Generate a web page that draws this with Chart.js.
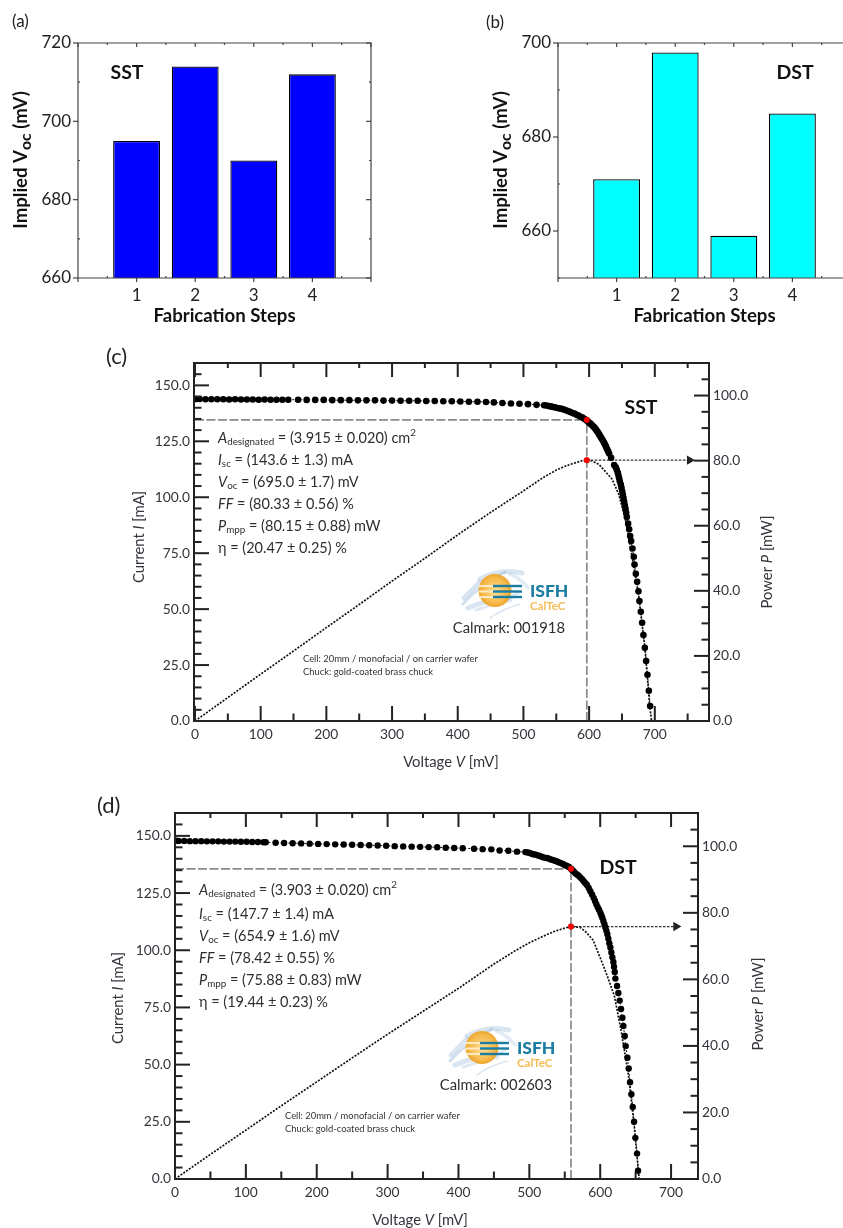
<!DOCTYPE html>
<html><head><meta charset="utf-8">
<style>
html,body{margin:0;padding:0;width:843px;height:1228px;overflow:hidden;background:#fff}
.p{position:absolute}
</style>
<script src="https://cdn.jsdelivr.net/npm/chart.js@4"></script>
</head><body>
<div class="p" style="left:0;top:0;width:420px;height:327px"><canvas id="a"></canvas></div>
<div class="p" style="left:420px;top:0;width:431px;height:327px"><canvas id="b"></canvas></div>
<div class="p" style="left:0;top:340px;width:843px;height:445px"><canvas id="c"></canvas></div>
<div class="p" style="left:0;top:785px;width:843px;height:443px"><canvas id="d"></canvas></div>
<script>
// ---------- data ----------
const steps = [1, 2, 3, 4];
const impliedVocSST = [695, 714, 690, 712];
const impliedVocDST = [671, 698, 659, 685];

const voltageC = [
 2,7,16,25,34,43,52,61,70,79,88,97,106,115,124,133,142,
 157,170,183,196,209,222,235,248,261,274,287,300,313,326,339,352,365,378,391,404,417,430,443,455,468,481,494,507,520,
 531.6,535.1,538.2,541.2,544.2,547.3,550.3,553.4,556.4,559.5,562.5,565.5,568.6,571.6,574.7,577.7,580.8,583.8,586.9,590,593,
 596,598,600.1,602.1,604.1,606.1,607.7,609.2,610.7,612.2,613.7,615.3,616.8,618.3,619.8,621.4,622.9,624.4,625.9,627.4,629,630.5,633.5,
 638.1,640.6,642.2,643.7,644.7,645.7,646.7,648.2,649.3,650.3,651.3,652.3,653.3,654.3,655.4,656.4,657.4,
 659.4,661,662.5,664,666,668,669.1,671.1,673.1,675.1,676.6,678.7,680.7,682.7,684.8,686.8,688.8,690.9,692.9];
const currentC = [
 143.9,143.9,143.8,143.8,143.8,143.8,143.7,143.8,143.7,143.7,143.7,143.6,143.7,143.6,143.6,143.6,143.6,
 143.6,143.5,143.5,143.5,143.4,143.4,143.4,143.3,143.3,143.3,143.2,143.2,143.1,143.1,143.1,143,143,142.9,142.9,142.8,142.7,142.7,142.6,142.4,142.1,141.9,141.8,141.6,141.3,
 141.1,141,140.8,140.6,140.4,140.2,140,139.8,139.6,139.4,139.1,138.8,138.4,138.1,137.6,137.4,136.9,136.5,136,135.6,135,
 134.4,133.9,133.3,132.9,132.3,131.7,131.3,130.7,130.1,129.5,128.9,128.1,127.4,126.6,125.9,125.1,124.3,123.4,122.5,121.4,120.5,119.5,117.6,
 114.4,113.4,112.2,110.9,109.7,108.5,107.1,105.7,104.2,102.7,101.2,99.7,98.1,96.4,94.8,93,91.2,
 88.2,85.7,82.7,80.4,77.1,73.4,69.9,65.8,62.2,58,53.6,48.8,43.9,38.4,32.7,26.8,20.7,13.5,6.7];
const powerVoltageC = [0,50,100,150,200,250,300,350,400,450,500,530,550,565,580,590,596.5,605,615,625,635,645,655,665,675,685,692,695];
const powerC = [0,7.2,14.4,21.5,28.7,35.8,43,50,57.2,64.1,70.7,74.8,77.1,78.4,79.4,80,80.15,79.9,78.8,76.6,74.3,69.7,62.2,51,39,22.6,5.2,0];
const mppVoltageC = 596.5, mppCurrentC = 134.6, mppPowerC = 80.15, arrowEndC = 753;

const voltageD = [
 2,5,13,21,29,37,45,53,61,69,77,85,93,101,109,117,125,128,
 142,154,166,178,190,202,214,226,238,250,262,274,286,298,310,322,334,346,358,370,382,394,406,422,434.1,446.4,458.1,470.4,482.6,494.4,
 496.7,499.5,502.4,505.2,508,510.8,513.6,516.5,519.3,522.1,524.9,527.8,530.6,533.4,536.2,539.1,541.9,544.7,547.5,550.4,553.2,556,
 558.8,560.7,562.6,564.9,567.3,569.6,572,574.4,576.7,579.1,581.4,583.8,586.1,588.5,590.8,592.7,594.6,596.5,598.4,600.2,601.6,603,604.5,605.9,607.3,608.7,610.1,
 611.5,612.9,614.4,615.8,617.2,618.6,619.5,620.5,621.4,623.8,625.6,627.5,629.4,631.3,632.7,634.6,636,638.4,640.2,642.1,644,645.9,647.8,649.6,652,653.4];
const currentD = [
 147.9,147.8,147.8,147.7,147.7,147.7,147.6,147.6,147.6,147.5,147.5,147.5,147.4,147.4,147.3,147.3,147.2,147.2,
 147,146.9,146.8,146.7,146.6,146.5,146.4,146.3,146.2,146.1,146,145.9,145.8,145.7,145.5,145.4,145.3,145.2,145.1,145,144.8,144.7,144.6,144.4,144.2,144.1,143.6,143.5,143.1,142.9,
 142.8,142.6,142.3,142,141.9,141.6,141.3,141,140.7,140.4,140.3,140,139.7,139.4,139.1,138.8,138.4,138.1,137.7,137.2,136.8,136.4,
 135.6,135,134.5,133.7,133.1,132.6,131.8,131.1,130.2,129.3,128.5,127.2,125.8,124.4,122.9,121.5,120.1,118.8,117.7,116.4,115.3,114.2,112.8,111.5,110.1,108.6,107,
 105.1,103.1,101.2,99,96.9,94.9,92.8,90.5,87.6,84.4,81.3,78,74.3,70.5,66.9,62.5,58.1,53,48.3,42.3,37.1,31.5,25,18,11.1,3.6];
const powerVoltageD = [0,50,100,150,200,250,300,350,400,450,480,500,520,535,550,559,572,580,590,600,610,620,630,640,648,655];
const powerD = [0,7.4,14.7,22,29.2,36.4,43.5,50.4,57.3,64.6,68.6,71,73,74.4,75.4,75.88,75.6,74.2,71.8,66.5,61,55,44,31,16,0];
const mppVoltageD = 558.8, mppCurrentD = 135.6, mppPowerD = 75.88, arrowEndD = 707;

const resultsC = ['3.915 ± 0.020','143.6 ± 1.3','695.0 ± 1.7','80.33 ± 0.56','80.15 ± 0.88','20.47 ± 0.25'];
const resultsD = ['3.903 ± 0.020','147.7 ± 1.4','654.9 ± 1.6','78.42 ± 0.55','75.88 ± 0.83','19.44 ± 0.23'];

// ---------- helpers ----------
const FONT = 'Lato, "Open Sans", sans-serif';
function rich(ctx, x, y, segs, o) {
  o = Object.assign({size:14, weight:'normal', color:'#333', align:'left', rot:0}, o);
  const fontOf = s => {
    const sz = (s.sub||s.sup) ? o.size*(s.k||0.68) : o.size;
    return (s.i?'italic ':'') + (s.w||o.weight) + ' ' + sz + 'px ' + FONT;
  };
  ctx.save();
  ctx.translate(x, y); ctx.rotate(o.rot);
  ctx.textBaseline = 'middle'; ctx.textAlign = 'left'; ctx.fillStyle = o.color;
  let total = 0;
  segs.forEach(s => { ctx.font = fontOf(s); total += ctx.measureText(s.t).width; });
  let cx = o.align === 'center' ? -total/2 : o.align === 'right' ? -total : 0;
  segs.forEach(s => {
    ctx.font = fontOf(s);
    const dy = s.sub ? o.size*(s.d||0.28) : s.sup ? -o.size*0.36 : 0;
    ctx.fillText(s.t, cx, dy);
    cx += ctx.measureText(s.t).width;
  });
  ctx.restore();
}
function logo(ctx, dx, dy) {
  ctx.save(); ctx.translate(dx, dy);
  ctx.lineCap = 'round';
  [[463,604,480,585,505,572,3,.35],[468,608,490,598,510,600,5,.3],[476,610,500,603,520,592,3,.25],
   [480,579,500,568,522,573,5,.3],[464,598,472,590,480,582,5,.3],[490,618,500,610,520,604,1.5,.3],[510,574,520,578,528,588,4,.22]]
  .forEach(w => { ctx.strokeStyle = 'rgba(130,170,210,'+w[7]+')'; ctx.lineWidth = w[6];
    ctx.beginPath(); ctx.moveTo(w[0],w[1]); ctx.quadraticCurveTo(w[2],w[3],w[4],w[5]); ctx.stroke(); });
  const g = ctx.createRadialGradient(495,592,2,495,590,17);
  g.addColorStop(0,'#fbd98a'); g.addColorStop(.7,'#f6b94a'); g.addColorStop(1,'#eda32a');
  ctx.fillStyle = g; ctx.beginPath(); ctx.arc(495,590.5,16.5,0,Math.PI*2); ctx.fill();
  ctx.strokeStyle = '#fde9c4'; ctx.lineWidth = 2; ctx.lineCap = 'butt';
  [586,591.5,597].forEach(v => { ctx.beginPath(); ctx.moveTo(479,v); ctx.lineTo(494,v); ctx.stroke(); });
  ctx.strokeStyle = '#1c7da3'; ctx.lineWidth = 2.4;
  [586,591.5,597].forEach(v => { ctx.beginPath(); ctx.moveTo(493,v); ctx.lineTo(522,v); ctx.stroke(); });
  ctx.textBaseline = 'middle'; ctx.textAlign = 'left';
  ctx.fillStyle = '#1c7da3'; ctx.font = '900 17.5px ' + FONT; ctx.fillText('ISFH', 530, 591.5);
  ctx.fillStyle = '#f5bc55'; ctx.font = 'bold 11.5px ' + FONT; ctx.fillText('CalTeC', 530, 606);
  ctx.restore();
}

function drawTicks(ctx, chart, color, width, axes) {
  const {chartArea: A, scales} = chart;
  ctx.save();
  ctx.setLineDash([]);
  ctx.strokeStyle = color; ctx.lineWidth = width; ctx.lineCap = 'butt';
  axes.forEach(ax => {
    const s = scales[ax.scale];
    const first = Math.ceil(s.min/ax.minor - 1e-6);
    for (let n = first; ; n++) {
      const v = n*ax.minor;
      if (v > s.max + 1e-6) break;
      const isMajor = Math.abs(v/ax.major - Math.round(v/ax.major)) < 1e-6;
      const len = isMajor ? ax.majorLen : ax.minorLen;
      if (!len) continue;
      const p = s.getPixelForValue(v);
      ctx.beginPath();
      if (ax.edge === 'left')   { ctx.moveTo(A.left, p);  ctx.lineTo(A.left+len, p); }
      if (ax.edge === 'right')  { ctx.moveTo(A.right, p); ctx.lineTo(A.right-len, p); }
      if (ax.edge === 'top')    { ctx.moveTo(p, A.top);   ctx.lineTo(p, A.top+len); }
      if (ax.edge === 'bottom') { ctx.moveTo(p, A.bottom);ctx.lineTo(p, A.bottom-len); }
      ctx.stroke();
    }
  });
  ctx.restore();
}
const framePlugin = {
  id: 'frame',
  afterDraw(chart, args, opts) {
    const {ctx, chartArea: A} = chart;
    ctx.save();
    ctx.setLineDash([]);
    ctx.strokeStyle = opts.color; ctx.lineWidth = opts.width;
    ctx.beginPath(); ctx.rect(A.left, A.top, A.right-A.left, A.bottom-A.top); ctx.stroke();
    ctx.restore();
    if (opts.axes) drawTicks(ctx, chart, opts.color, opts.width, opts.axes);
    if (opts.draw) opts.draw(ctx, chart);
  }
};
Chart.register(framePlugin);
Chart.defaults.font.family = FONT;
Chart.defaults.animation = false;
Chart.defaults.responsive = false;
Chart.defaults.maintainAspectRatio = false;
Chart.defaults.devicePixelRatio = 1;

function size(id, w, h) { const c = document.getElementById(id); c.width = w; c.height = h; c.style.width = w+'px'; c.style.height = h+'px'; c.style.display='block'; return c; }

function barChart(id, w, values, color, yMin, yMax, plot, draw) {
  const H = 327;
  new Chart(size(id, w, H), {
    type: 'bar',
    data: { datasets: [{ data: steps.map((s,i) => ({x:s, y:values[i]})), backgroundColor: color, borderColor: '#000', borderWidth: 1.3,
      barPercentage: .8, categoryPercentage: 1 }] },
    options: {
      layout: { padding: { top: plot.top, right: w-plot.right, left: 0, bottom: 0 } },
      plugins: { legend:{display:false}, tooltip:{enabled:false},
        frame: { color:'#444', width:1.2, draw, axes:[
          {scale:'y', edge:'left',  major:20, minor:10, majorLen:-5, minorLen:2},
          {scale:'y', edge:'right', major:20, minor:10, majorLen:5, minorLen:2},
          {scale:'x', edge:'bottom',major:1,  minor:.5, majorLen:-4, minorLen:2},
          {scale:'x', edge:'top',   major:1,  minor:.5, majorLen:4,  minorLen:2}] } },
      scales: {
        x: { type:'linear', offset:false, min:0, max:5, grid:{display:false, drawTicks:false, offset:false}, border:{display:false},
          ticks:{ stepSize:1, padding:7, color:'#222', font:{size:17}, maxRotation:0, autoSkip:false,
            callback: v => steps.includes(v) ? String(v) : '' },
          title:{ display:true, text:'Fabrication Steps', color:'#111', font:{size:18.6, weight:'bold'}, padding:0 },
          afterFit: s => { s.height = H-plot.bottom; s.paddingLeft = 0; s.paddingRight = 0; } },
        y: { min:yMin, max:yMax, grid:{display:false, drawTicks:false}, border:{display:false},
          ticks:{ stepSize:20, includeBounds:false, padding:7, color:'#222', font:{size:17} },
          afterFit: s => { s.width = plot.left; } }
      }
    }
  });
}
function vocTitle(ctx, x) {
  rich(ctx, x, 160, [{t:'Implied V'},{t:'oc',sub:1,k:.85,d:.28},{t:' (mV)'}], {size:18.6, weight:'bold', color:'#111', align:'center', rot:-Math.PI/2});
}
barChart('a', 420, impliedVocSST, '#0000ff', 660, 720, {left:78, right:371, top:43, bottom:278}, ctx => {
  vocTitle(ctx, 21);
  rich(ctx, 12, 22, [{t:'(a)'}], {size:17, color:'#222'});
  rich(ctx, 127, 72.5, [{t:'SST'}], {size:19.5, weight:'bold', color:'#111', align:'center'});
});
barChart('b', 431, impliedVocDST, '#00ffff', 650, 700, {left:138, right:431, top:43, bottom:278}, ctx => {
  vocTitle(ctx, 81);
  rich(ctx, 66, 23, [{t:'(b)'}], {size:17, color:'#222'});
  rich(ctx, 375, 72.5, [{t:'DST'}], {size:19.5, weight:'bold', color:'#111', align:'center'});
});

const ivAxes = [
  {scale:'y',  edge:'left',  major:25, minor:5, majorLen:15, minorLen:7.5},
  {scale:'yP', edge:'right', major:20, minor:5, majorLen:15, minorLen:7.5},
  {scale:'x',  edge:'bottom',major:100,minor:50,majorLen:15, minorLen:7.5},
  {scale:'x',  edge:'top',   major:100,minor:50,majorLen:14, minorLen:5}];
function ivChart(cfg) {
  const {id, H, plot, V, I, PV, P, mV, mI, mP, arrow} = cfg;
  const W = 843, txt = '#34343c', tickFont = {size:13.8};
  const guide = { type:'line', borderColor:'#8a8a8a', borderWidth:1.7, borderDash:[9,2.5], pointRadius:0, order:4, showLine:true, fill:false };
  const canvas = size(id, W, H);
  const chart = new Chart(canvas, {
    type: 'scatter',
    data: { datasets: [
      { label:'mpp', data:[{x:mV,y:mI}], backgroundColor:'#ff0000', borderColor:'#c00000', borderWidth:.5, pointRadius:2.9, order:0 },
      { label:'mpp power', yAxisID:'yP', data:[{x:mV,y:mP}], backgroundColor:'#ff0000', borderColor:'#c00000', borderWidth:.5, pointRadius:2.9, order:0 },
      { label:'I-V', data:V.map((v,i)=>({x:v,y:I[i]})), backgroundColor:'#000', borderColor:'#111', borderWidth:1, pointBorderWidth:0, pointRadius:cfg.r, showLine:true, borderDash:[2,2], order:1, tension:0 },
      { label:'P-V', yAxisID:'yP', data:PV.map((v,i)=>({x:v,y:P[i]})), showLine:true, borderColor:'#111', borderWidth:1.7, borderDash:[2,1.4], pointRadius:0, order:3 },
      { label:'arrow', yAxisID:'yP', data:[{x:mV,y:mP},{x:arrow,y:mP}], showLine:true, borderColor:'#333', borderWidth:1.2, borderDash:[2.5,1.5],
        pointStyle:'triangle', pointRotation:[0,90], pointRadius:[0,4.2], backgroundColor:'#222', pointBorderColor:'#222', pointBackgroundColor:'#222', order:2 },
      Object.assign({ label:'h', data:[{x:0,y:mI},{x:mV,y:mI}] }, guide),
      Object.assign({ label:'v', data:[{x:mV,y:0},{x:mV,y:mI}] }, guide)
    ] },
    options: {
      layout: { padding:{ top:plot.top, left:0, right:0, bottom:0 } },
      plugins: { legend:{display:false}, tooltip:{enabled:false},
        frame: { color:'#222', width:2, draw: cfg.draw } },
      scales: {
        x: { type:'linear', min:cfg.xMin, max:cfg.xMax, grid:{display:false, drawTicks:false}, border:{display:false},
          ticks:{ stepSize:100, includeBounds:false, padding:5, color:txt, font:tickFont, maxRotation:0 },
          afterFit: s => { s.height = H-plot.bottom; s.paddingLeft = 0; s.paddingRight = 0; } },
        y: { min:0, max:160, grid:{display:false, drawTicks:false}, border:{display:false},
          ticks:{ stepSize:25, includeBounds:false, padding:4, color:txt, font:tickFont, callback:v=>v.toFixed(1) },
          afterFit: s => { s.width = plot.left; } },
        yP: { position:'right', min:0, max:110, grid:{display:false, drawTicks:false}, border:{display:false},
          ticks:{ stepSize:20, includeBounds:false, padding:4, color:txt, font:tickFont, callback:v=>v.toFixed(1) },
          afterFit: s => { s.width = W-plot.right; } }
      }
    }
  });
  // inward ticks go on their own layer above the chart, placed by the chart's scales
  const over = document.createElement('canvas');
  over.width = W; over.height = H;
  over.style.cssText = 'position:absolute;left:0;top:0;width:'+W+'px;height:'+H+'px;pointer-events:none';
  canvas.parentNode.appendChild(over);
  drawTicks(over.getContext('2d'), chart, '#222', 2, ivAxes);
}
function block(ctx, x, ys, vals) {
  const o = {size:14.5, color:'#2e2e2e'};
  rich(ctx, x, ys[0], [{t:'A',i:1},{t:'designated',sub:1},{t:' = ('+vals[0]+') cm'},{t:'2',sup:1}], o);
  rich(ctx, x, ys[1], [{t:'I',i:1},{t:'sc',sub:1},{t:' = ('+vals[1]+') mA'}], o);
  rich(ctx, x, ys[2], [{t:'V',i:1},{t:'oc',sub:1},{t:' = ('+vals[2]+') mV'}], o);
  rich(ctx, x, ys[3], [{t:'FF',i:1},{t:' = ('+vals[3]+') %'}], o);
  rich(ctx, x, ys[4], [{t:'P',i:1},{t:'mpp',sub:1},{t:' = ('+vals[4]+') mW'}], o);
  rich(ctx, x, ys[5], [{t:'η = ('+vals[5]+') %'}], o);
}
const axisOpt = {size:14.8, color:'#34343c', align:'center'};
ivChart({ id:'c', H:445, plot:{left:194, right:709, top:23, bottom:381}, xMin:-1.5, xMax:782.5, r:3.3,
  V:voltageC, I:currentC, PV:powerVoltageC, P:powerC, mV:mppVoltageC, mI:mppCurrentC, mP:mppPowerC, arrow:arrowEndC,
  draw(ctx) {
    rich(ctx, 106, 17, [{t:'(c)'}], {size:22, color:'#222'});
    rich(ctx, 641, 68, [{t:'SST'}], {size:19.5, weight:'bold', color:'#111', align:'center'});
    block(ctx, 218, [98,120,142,164,186,208], resultsC);
    rich(ctx, 451, 422, [{t:'Voltage '},{t:'V',i:1},{t:' [mV]'}], axisOpt);
    rich(ctx, 139, 197, [{t:'Current '},{t:'I',i:1},{t:' [mA]'}], Object.assign({rot:-Math.PI/2}, axisOpt));
    rich(ctx, 767, 222, [{t:'Power '},{t:'P',i:1},{t:' [mW]'}], Object.assign({rot:-Math.PI/2}, axisOpt));
    logo(ctx, 0, -340);
    rich(ctx, 565, 288, [{t:'Calmark: 001918'}], {size:14.8, color:'#2e2e2e', align:'right'});
    rich(ctx, 303, 319, [{t:'Cell: 20mm / monofacial / on carrier wafer'}], {size:9.4, color:'#333'});
    rich(ctx, 303, 332, [{t:'Chuck: gold-coated brass chuck'}], {size:9.4, color:'#333'});
  }
});
ivChart({ id:'d', H:443, plot:{left:175, right:698, top:28, bottom:394}, xMin:0, xMax:738, r:3.2,
  V:voltageD, I:currentD, PV:powerVoltageD, P:powerD, mV:mppVoltageD, mI:mppCurrentD, mP:mppPowerD, arrow:arrowEndD,
  draw(ctx) {
    rich(ctx, 97, 21, [{t:'(d)'}], {size:22, color:'#222'});
    rich(ctx, 618, 83, [{t:'DST'}], {size:19.5, weight:'bold', color:'#111', align:'center'});
    block(ctx, 199, [105,129,151,173,195,217], resultsD);
    rich(ctx, 420, 435, [{t:'Voltage '},{t:'V',i:1},{t:' [mV]'}], axisOpt);
    rich(ctx, 118, 213, [{t:'Current '},{t:'I',i:1},{t:' [mA]'}], Object.assign({rot:-Math.PI/2}, axisOpt));
    rich(ctx, 758, 219, [{t:'Power '},{t:'P',i:1},{t:' [mW]'}], Object.assign({rot:-Math.PI/2}, axisOpt));
    logo(ctx, -13, -785+457);
    rich(ctx, 552, 300, [{t:'Calmark: 002603'}], {size:14.8, color:'#2e2e2e', align:'right'});
    rich(ctx, 285, 331, [{t:'Cell: 20mm / monofacial / on carrier wafer'}], {size:9.4, color:'#333'});
    rich(ctx, 285, 344, [{t:'Chuck: gold-coated brass chuck'}], {size:9.4, color:'#333'});
  }
});
</script>
</body></html>
